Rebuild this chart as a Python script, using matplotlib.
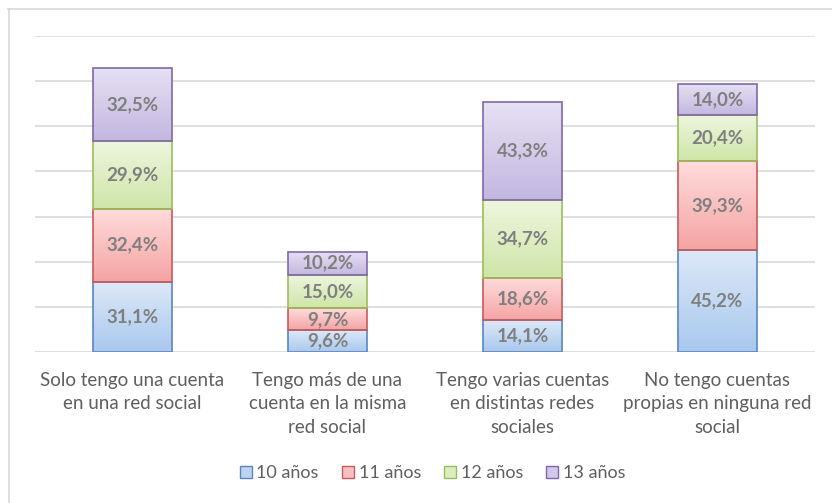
import matplotlib
matplotlib.use("Agg")
import matplotlib.pyplot as plt
import numpy as np
from matplotlib.colors import LinearSegmentedColormap
from matplotlib.lines import Line2D

categories = ["Solo tengo una cuenta\nen una red social",
              "Tengo más de una\ncuenta en la misma\nred social",
              "Tengo varias cuentas\nen distintas redes\nsociales",
              "No tengo cuentas\npropias en ninguna red\nsocial"]
series = ["10 años", "11 años", "12 años", "13 años"]
v10 = [31.1, 9.6, 14.1, 45.2]
v11 = [32.4, 9.7, 18.6, 39.3]
v12 = [29.9, 15.0, 34.7, 20.4]
v13 = [32.5, 10.2, 43.3, 14.0]
values = [v10, v11, v12, v13]

edge_colors = ["#5a86c0", "#c85a5a", "#9cbc5c", "#8068a8"]
top_colors = ["#dde9f8", "#ffdcdc", "#eef6df", "#e6e1f3"]
bot_colors = ["#a9c8ee", "#f5a3a3", "#cfe5a8", "#c3b7e0"]
legend_colors = ["#bcd4f2", "#f8c0c0", "#dcedbf", "#d2c9ea"]

FONT = "Lato"
fig = plt.figure(figsize=(8.32, 5.03), dpi=100)
ax = fig.add_axes([35/832, 1-352/503, 780/832, (352-36)/503])

x = np.arange(len(categories))
bottom = np.zeros(len(categories))
grad = np.linspace(0, 1, 256).reshape(-1, 1)
for i, vals in enumerate(values):
    bars = ax.bar(x, vals, width=0.405, bottom=bottom, facecolor="none",
                  edgecolor=edge_colors[i], linewidth=1.2, zorder=3)
    cmap = LinearSegmentedColormap.from_list("g%d" % i, [bot_colors[i], top_colors[i]])
    for rect, v, b in zip(bars, vals, bottom):
        rx, ry, rw, rh = rect.get_x(), rect.get_y(), rect.get_width(), rect.get_height()
        im = ax.imshow(grad, extent=[rx, rx + rw, ry, ry + rh], origin="lower",
                       aspect="auto", cmap=cmap, zorder=2, interpolation="bilinear")
        im.set_clip_path(rect)
        ax.text(rect.get_x() + rw/2, ry + rh/2, ("%.1f%%" % v).replace(".", ","),
                ha="center", va="center", fontsize=13.5, fontweight="bold",
                color="#7f7f7f", family=FONT, zorder=4)
    bottom = bottom + np.array(vals)

ax.set_xlim(-0.5, 3.5)
ax.set_ylim(0, 140)
ax.set_yticks(np.arange(0, 141, 20))
ax.yaxis.grid(True, color="#d9d9d9", linewidth=1.2, zorder=0)
ax.set_axisbelow(True)
ax.tick_params(axis="y", left=False, labelleft=False)
ax.tick_params(axis="x", bottom=False)
for s in ax.spines.values():
    s.set_visible(False)
ax.set_xticks(x)
ax.set_xticklabels(categories, fontsize=13.5, color="#5f5f5f", family=FONT, linespacing=1.45)
ax.tick_params(axis="x", pad=11)

handles = [Line2D([], [], marker="s", linestyle="none", markersize=9,
                  markerfacecolor=legend_colors[i], markeredgecolor=edge_colors[i],
                  markeredgewidth=1) for i in range(4)]
leg = fig.legend(handles, series, loc="center", bbox_to_anchor=(430/832, 1-473/503),
                 ncol=4, frameon=False, handletextpad=0.0, columnspacing=1.0,
                 handlelength=1.2, prop={"family": FONT, "size": 13})
for t in leg.get_texts():
    t.set_color("#5f5f5f")

fig.add_artist(Line2D([8.5/832, 8.5/832], [0, 1-9/503], transform=fig.transFigure,
                      color="#d9d9d9", linewidth=1.2))
fig.add_artist(Line2D([8/832, 1], [1-9/503, 1-9/503], transform=fig.transFigure,
                      color="#d9d9d9", linewidth=1.2))

fig.savefig("out.png", dpi=100)
